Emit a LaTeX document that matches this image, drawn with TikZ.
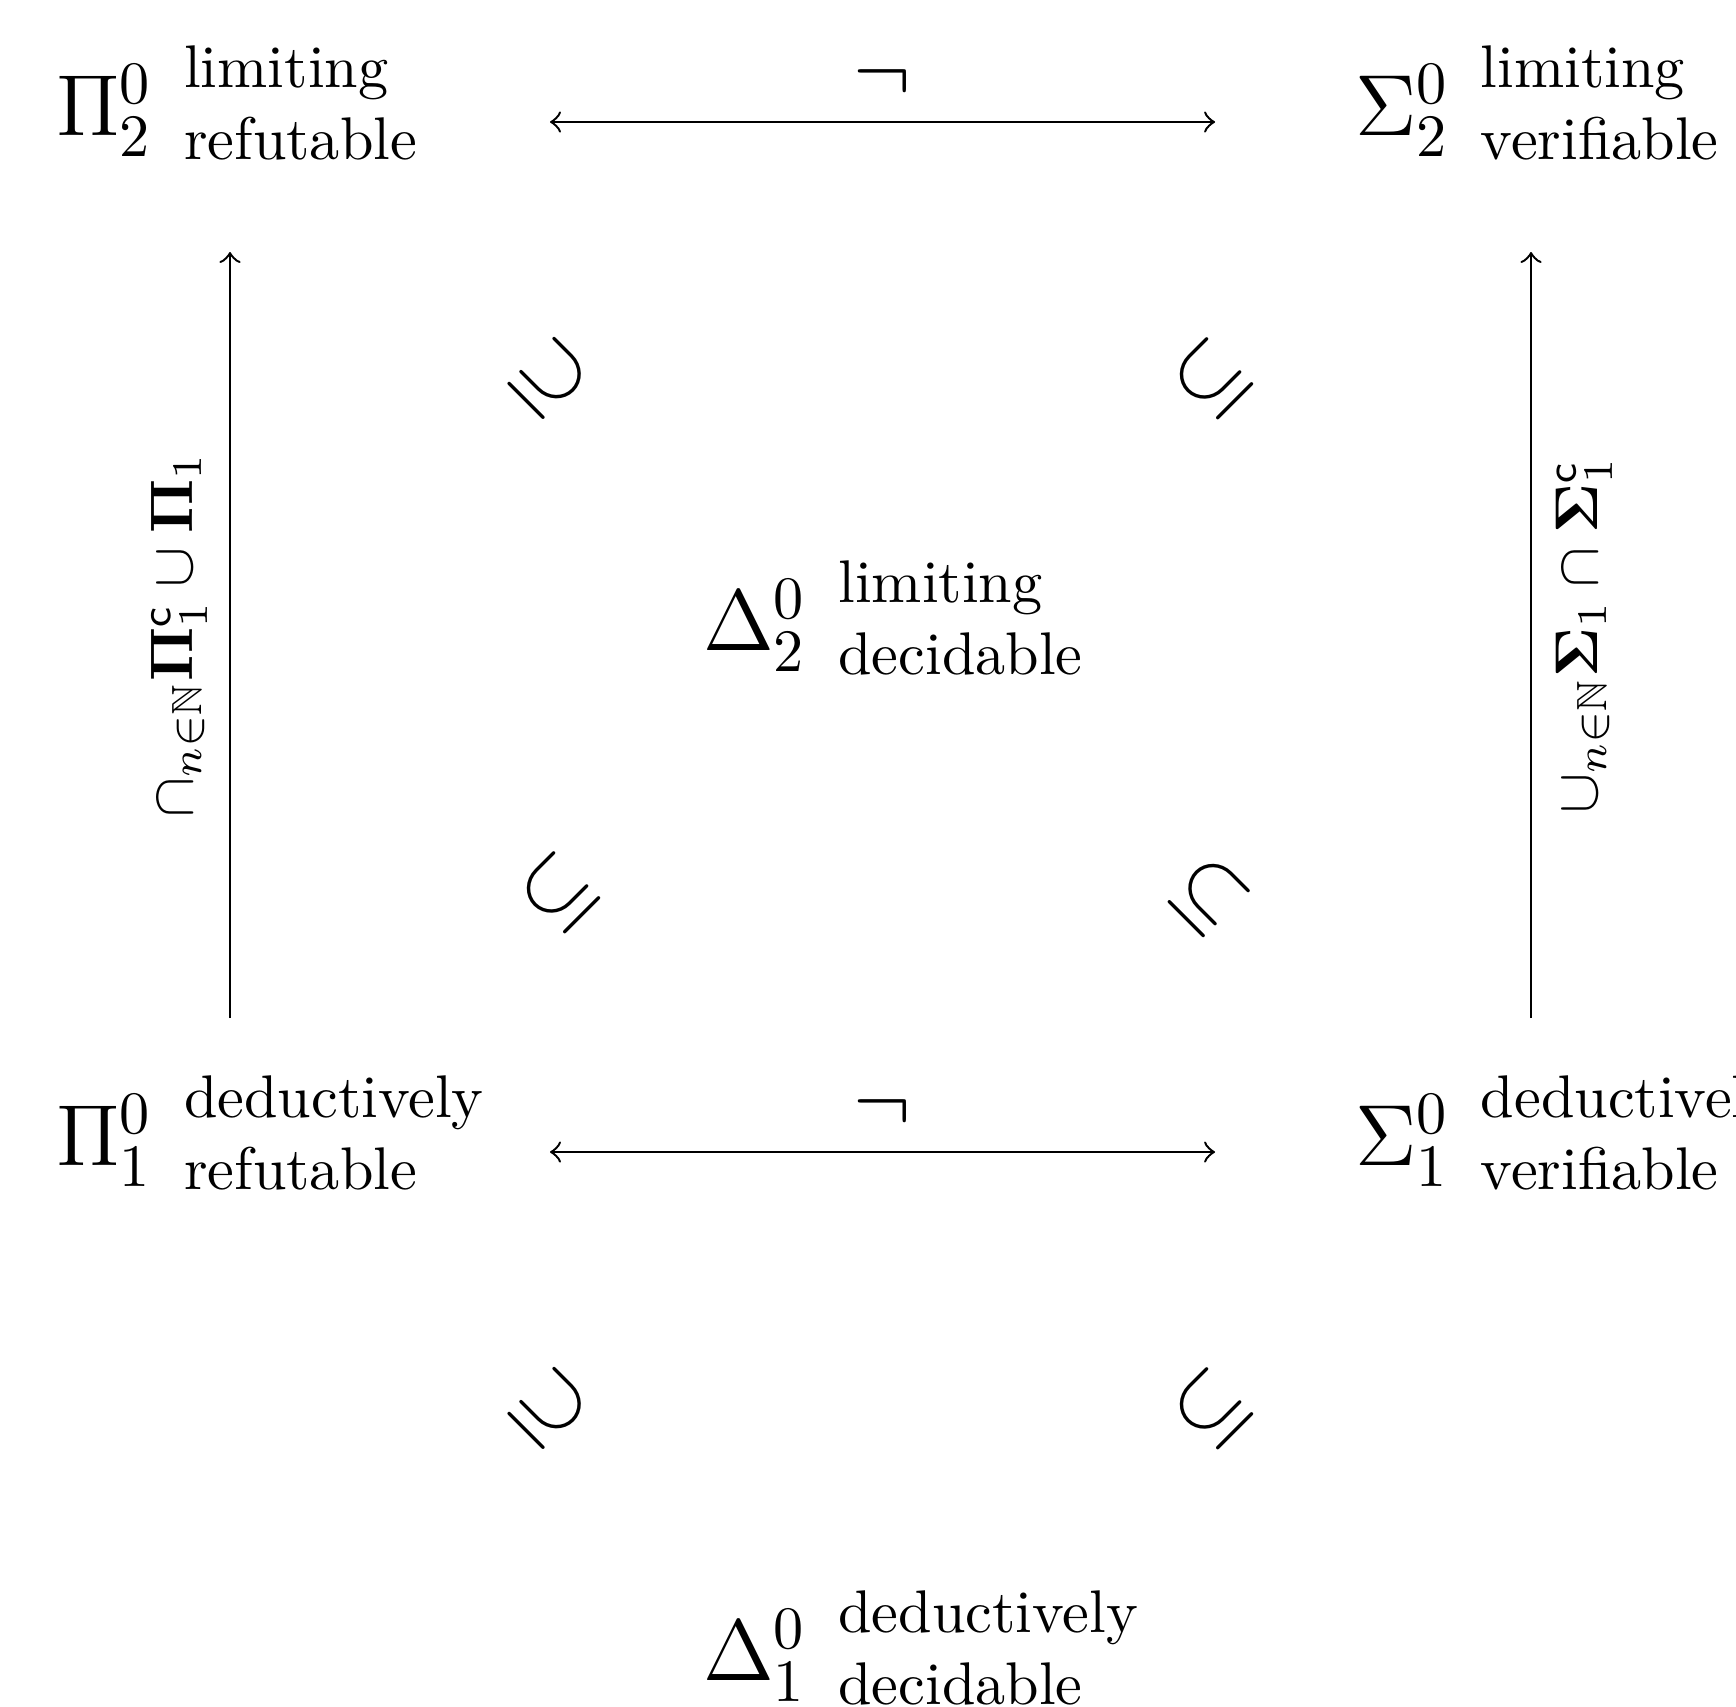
\documentclass[tikz,border=0pt]{standalone}
\usepackage{amssymb}
\usepackage{bm}
\usetikzlibrary{calc}
\begin{document}
\begin{tikzpicture}[x=0.16611pt,y=-0.16611pt,
  sym/.style={font=\Large, inner sep=0pt, anchor=base west},
  desc/.style={inner sep=0pt, anchor=base west},
  incl/.style={font=\Large, inner sep=0pt},
  neglbl/.style={font=\Large, inner sep=0pt},
  sidelbl/.style={inner sep=0pt, sloped},
  arr/.style={line width=0.4pt}]
\useasboundingbox (0,0) rectangle (1736,1706);

% classes
\node[sym] (P2) at (55,135) {$\Pi^0_2$};
\node[desc] (P2t) at ($(P2.base east)+(4.8pt,7.97pt)$) {\begin{tabular}[t]{@{}l@{}}limiting\\refutable\end{tabular}};
\node[sym] (S2) at (1354,135) {$\Sigma^0_2$};
\node[desc] (S2t) at ($(S2.base east)+(4.8pt,7.97pt)$) {\begin{tabular}[t]{@{}l@{}}limiting\\verifiable\end{tabular}};
\node[sym] (D2) at (702,650) {$\Delta^0_2$};
\node[desc] (D2t) at ($(D2.base east)+(4.8pt,7.97pt)$) {\begin{tabular}[t]{@{}l@{}}limiting\\decidable\end{tabular}};
\node[sym] (P1) at (55,1165) {$\Pi^0_1$};
\node[desc] (P1t) at ($(P1.base east)+(4.8pt,7.97pt)$) {\begin{tabular}[t]{@{}l@{}}deductively\\refutable\end{tabular}};
\node[sym] (S1) at (1354,1165) {$\Sigma^0_1$};
\node[desc] (S1t) at ($(S1.base east)+(4.8pt,7.97pt)$) {\begin{tabular}[t]{@{}l@{}}deductively\\verifiable\end{tabular}};
\node[sym] (D1) at (702,1680) {$\Delta^0_1$};
\node[desc] (D1t) at ($(D1.base east)+(4.8pt,7.97pt)$) {\begin{tabular}[t]{@{}l@{}}deductively\\decidable\end{tabular}};

% arrow ends
\coordinate (tl) at (550,122);
\coordinate (tr) at (1215,122);
\coordinate (bl) at (550,1152);
\coordinate (br) at (1215,1152);
\coordinate (lb) at (230,1018);
\coordinate (lt) at (230,252);
\coordinate (rb) at (1531,1018);
\coordinate (rt) at (1531,252);

\draw[arr,<->] (tl) -- node[neglbl, above=3.4pt] (n1) {$\neg$} (tr);
\draw[arr,<->] (bl) -- node[neglbl, above=3.4pt] (n2) {$\neg$} (br);
\draw[arr,->] (lb) -- node[sidelbl, above=3.6pt] (llab) {$\cap_{n\in\mathbb{N}}\bm{\Pi}_1^{\mathsf{c}}\cup\bm{\Pi}_1$} (lt);
\draw[arr,->] (rb) -- node[sidelbl, below=4pt] (rlab) {$\cup_{n\in\mathbb{N}}\bm{\Sigma}_1\cap\bm{\Sigma}_1^{\mathsf{c}}$} (rt);

% inclusions
\node[incl, rotate=-45] (i1) at (550,379) {$\supseteq$};
\node[incl, rotate=45] (i2) at (1212,379) {$\subseteq$};
\node[incl, rotate=45] (i3) at (559,893) {$\subseteq$};
\node[incl, rotate=-45] (i4) at (1209,896) {$\subseteq$};
\node[incl, rotate=-45] (i5) at (550,1409) {$\supseteq$};
\node[incl, rotate=45] (i6) at (1212,1409) {$\subseteq$};
\end{tikzpicture}
\end{document}
